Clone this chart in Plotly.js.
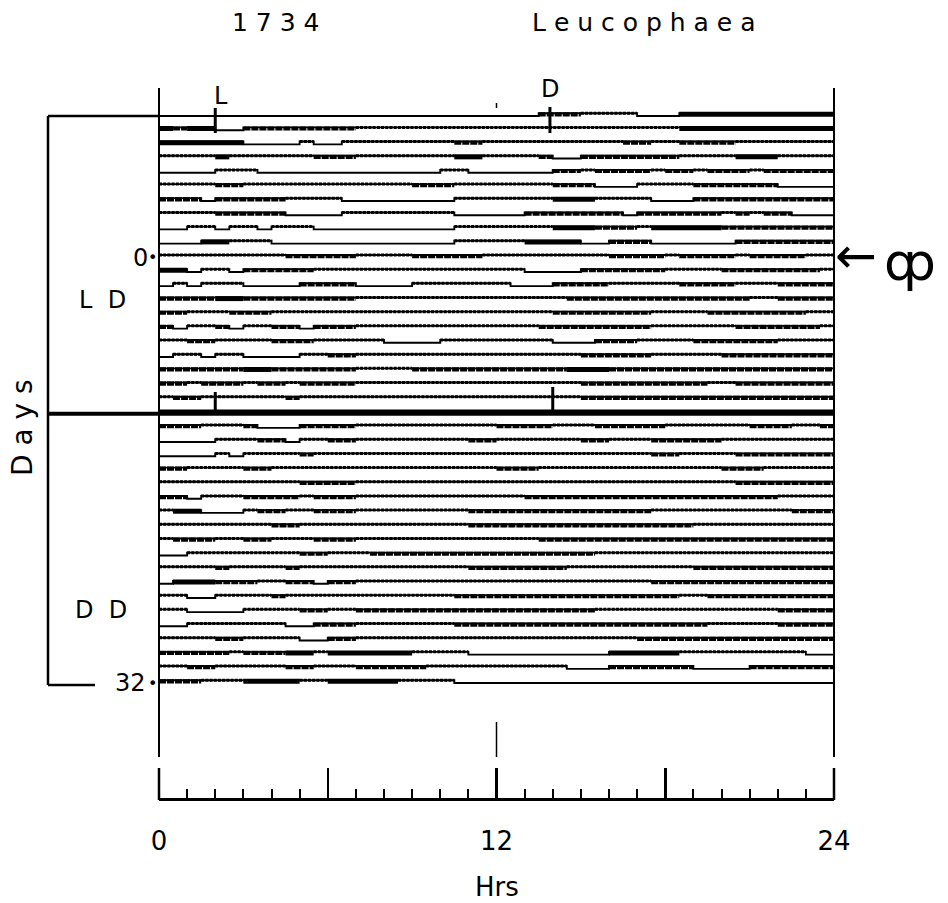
<!DOCTYPE html>
<html><head><meta charset="utf-8">
<script src="https://cdn.plot.ly/plotly-3.0.1.min.js"></script>
<style>html,body{margin:0;padding:0;background:#fff}#chart{width:948px;height:903px}</style>
</head><body><div id="chart"></div>
<script>
// ---------------- data ----------------
const titleNumber = "1 7 3 4";
const titleSpecies = "L e u c o p h a e a";
const hourTicks = [0, 6, 12, 18, 24];
const hourLabels = ["0", "", "12", "", "24"];
const minorHours = [1,2,3,4,5,7,8,9,10,11,13,14,15,16,17,19,20,21,22,23];
const dayLabels = ["0", "32"];
const dayLabelRows = [10, 40];
const lightsOn = [2.0, 2.0];     // "L" markers (first day, last LD day)
const lightsOff = [13.9, 14.0];  // "D" markers
const conditionLabels = ["L  D", "D  D"];
// activity per day, 48 half-hour bins (spaces only for reading):
// 0 rest, 1 sparse, 2 dense, 3 solid
const ldRows = [
  "000000000000000000000000000 222 1111 000 33333333333",
  "3233 00 22222222 11111111111111 111111111 33333333333",
  "333333 0000 1 00 11111111 22 11111 11111 22 11 2222 1111111",
  "1111 3 111111 222 1111111 33 1111 2 00 22 22222 1111 333 1111",
  "0000 111 0000 000000000 11 000000 22 1 2222 1 22 1 222 1 22222",
  "1111 22 111111111111 222 1111111 222 000 1111 222222 0000",
  "222 0 22222 1111 00 000000 1111111 333 1111 000 2222222222",
  "1111 22222 0000 11111111 00000 22 22222 0 2222 2212122 000",
  "00 11 0 11 0 111 0000000000 1111111 333 222 1 33333 2222 2222",
  "000 33 111 0000000000000 11111 33 33 00 222 000000 2222222",
  "111111111 22222 1111 22222 11111 1111 2222 1 2222 1 2222 11",
  "33 0 11 0 2222 2 111 111111111111 0000 222222 1111 2222222 1",
  "0 1 0 111 0000 2222 0000 1111111 000 2222 11111 2222 111 2222",
  "22 22 33 22222222 111111111111 111 2222222222222 11 22 22",
  "22 111 222 111111 1111111111111 1 2222222 1111 2222222 11",
  "2 0 11 2 0 11 22 0 222 1111111111111 22222222 111111 222222 1",
  "11 22 1111 222 111 11 0000 11111111 000 222 1111 222222 1111",
  "0 11 0 11 0000 11 22 1111111111111111 22222 11111 22222222",
  "22222233222222 1111 22222222 2223332222 22222222 2222",
  "22 1 222 1 22 1 2222 1111111111111111 222222222 11 22222 22",
  "1 22 1111 11 2 1111 1111111111111111 222222222222222222"
];
const boundaryRow = "333333333333333333333333333333333333333333333333";
const ddRows = [
  "222 111 2 000 2222 1111111111 2222 111 22222 111111 222 11 2",
  "0000 111 22 0 11 22 11111111 22 111111 22 111 22222 11111111",
  "0000 1 0 11112111 1111111111111111 11111 22 1111 22222 22",
  "22 11 11 22 1111 11 1111111111 222 1111111111111 222 11111",
  "1111111111 2222 111111111111111111111111111 2222222",
  "22 0 111 2222 1 222 111111111111 22222222222222 22221111",
  "1 33 000 1 22 11 222 11111111 2222222222222 1111111111 222",
  "11111111 22 1111 11111111 2222222222222222 1111111111",
  "1 222 11 22 111 222 1111111111111 222222222222222 222222",
  "00 11111111 22 11 1 2222222222222222 11111111111111111",
  "1111 2 1111 2 1111 11111111 2222222 111111111 2222222222",
  "0 333 222 11 22 0 22 1111111111111 11111111 2222222222222",
  "11 00 1111 2 11111 1111111 2222222222222222 11 222222222",
  "11 0000 11 11 22 11 22222222222222222 1111111111111 2222",
  "00 1111111 00 222 1111111 222222222222222222 11111 2222",
  "1111 22 1111 00 22 11111111111111111111 2222222222 2222",
  "22222 1 222 33 1 333333 1111 0000000000 33333 111111111 00",
  "11 22 11111 22 111 22222 1111111111 000 222222 0000 222222",
  "222 111 3333 11 33333 1111 000000000000000000000000000"
];

// ---------------- geometry ----------------
const W = 948, H = 903;
const pxPerHour = 28.125, x0px = 159;
const rowPx = 14.175, y0px = 116;
const X = px => (px - x0px) / pxPerHour;
const Y = py => (py - y0px) / rowPx;
const raise = 2.8 / rowPx;
const binH = 0.5, nBins = 48;

const allRows = ldRows.concat([boundaryRow], ddRows).map(s => s.replace(/\s+/g, ""));

const stepX = [], stepY = [];
const seg = {1: {x: [], y: []}, 2: {x: [], y: []}, 3: {x: [], y: []}};
allRows.forEach((s, r) => {
  const lv = [];
  for (let i = 0; i < nBins; i++) lv.push(parseInt(s[i] || "0", 10));
  for (let i = 0; i < nBins; i++) {
    stepX.push(i * binH);
    stepY.push(lv[i] > 0 ? r - raise : r);
  }
  stepX.push(24); stepY.push(lv[nBins - 1] > 0 ? r - raise : r);
  stepX.push(null); stepY.push(null);
  let i = 0;
  while (i < nBins) {
    const k = lv[i];
    let j = i;
    while (j < nBins && lv[j] === k) j++;
    if (k > 0) {
      const yy = k === 1 ? r - raise : r - raise * 0.6;
      seg[k].x.push(i * binH, j * binH, null);
      seg[k].y.push(yy, yy, null);
    }
    i = j;
  }
});

const traces = [
  {x: stepX, y: stepY, mode: "lines", line: {color: "#000", width: 1.9, shape: "hv"}, hoverinfo: "skip"},
  {x: seg[1].x, y: seg[1].y, mode: "lines", line: {color: "#000", width: 3, dash: "3px,1.2px"}, hoverinfo: "skip"},
  {x: seg[2].x, y: seg[2].y, mode: "lines", line: {color: "#000", width: 4.2, dash: "7px,1px"}, hoverinfo: "skip"},
  {x: seg[3].x, y: seg[3].y, mode: "lines", line: {color: "#000", width: 5}, hoverinfo: "skip"},
  {x: [0], y: [0.5], xaxis: "x2", yaxis: "y2", mode: "markers", marker: {opacity: 0}, hoverinfo: "skip"}
];

const ln = (x0, y0, x1, y1, w) => ({type: "line", xref: "x", yref: "y", x0, y0, x1, y1, line: {color: "#000", width: w}});
const shapes = [
  ln(0, Y(88), 0, Y(757), 2),
  ln(24, Y(88), 24, Y(757), 2),
  ln(12, Y(722), 12, Y(757), 1.5),
  ln(12, Y(103), 12, Y(108), 1.5),
  ln(X(48), Y(116), X(48), Y(685), 2.5),
  ln(X(48), Y(116), 0, Y(116), 2.5),
  ln(X(48), Y(685), X(95), Y(685), 2.5),
  ln(X(48), 21, 24, 21, 4),
  ln(lightsOn[0], Y(108), lightsOn[0], Y(133), 3),
  ln(lightsOff[0], Y(107), lightsOff[0], Y(133), 3),
  ln(lightsOn[1], Y(392), lightsOn[1], 21, 3),
  ln(lightsOff[1], Y(387), lightsOff[1], 21, 3),
  ln(hourTicks[0], Y(768), hourTicks[0], Y(800), 2.5),
  ln(hourTicks[4], Y(768), hourTicks[4], Y(800), 2.5)
];

const F = "DejaVu Sans";
const ann = (text, x, y, size, extra) => Object.assign({text, x, y, xref: "x", yref: "y", showarrow: false, font: {family: F, size, color: "#000"}, xanchor: "center", yanchor: "middle"}, extra || {});
const annotations = [
  ann(titleNumber, X(275), Y(22), 25),
  ann(titleSpecies, X(643), Y(22), 25),
  ann("L", lightsOn[0] + X(222) - X(216), Y(96), 24),
  ann("D", lightsOff[0], Y(89), 24),
  ann(dayLabels[0], X(140), dayLabelRows[0], 24),
  ann("•", X(152), dayLabelRows[0], 16),
  ann(dayLabels[1], X(130), dayLabelRows[1], 24),
  ann("•", X(152), dayLabelRows[1], 16),
  ann(conditionLabels[0], X(102), Y(300), 24),
  ann(conditionLabels[1], X(101), Y(610), 24),
  ann("D a y s", X(22), Y(428), 28, {textangle: -90}),
  ann("←", X(856), Y(256), 50),
  ann("ȹ", X(910), Y(262), 52),
  ann("Hrs", 12, Y(887), 26)
];

const layout = {
  width: W, height: H,
  margin: {l: 0, r: 0, t: 0, b: 0, pad: 0},
  paper_bgcolor: "#fff", plot_bgcolor: "rgba(0,0,0,0)",
  showlegend: false,
  xaxis: {range: [X(0), X(W)], visible: false, fixedrange: true},
  yaxis: {range: [Y(H), Y(0)], visible: false, fixedrange: true},
  xaxis2: {
    domain: [x0px / W, (x0px + 24 * pxPerHour) / W], anchor: "y2", range: [0, 24],
    showline: true, linewidth: 2.5, linecolor: "#000", showgrid: false, zeroline: false,
    ticks: "inside", ticklen: 30, tickwidth: 2.5, tickcolor: "#000",
    tickmode: "array", tickvals: hourTicks, ticktext: hourLabels,
    tickfont: {family: F, size: 26, color: "#000"}, ticklabelstandoff: 18,
    minor: {tickvals: minorHours, ticks: "inside", ticklen: 9, tickwidth: 2, tickcolor: "#000", showgrid: false},
    fixedrange: true
  },
  yaxis2: {domain: [1 - 798 / H, 1 - 760 / H], anchor: "x2", range: [0, 1], visible: false, fixedrange: true},
  shapes, annotations
};

Plotly.newPlot("chart", traces, layout, {staticPlot: true, displayModeBar: false});
</script>
</body></html>
